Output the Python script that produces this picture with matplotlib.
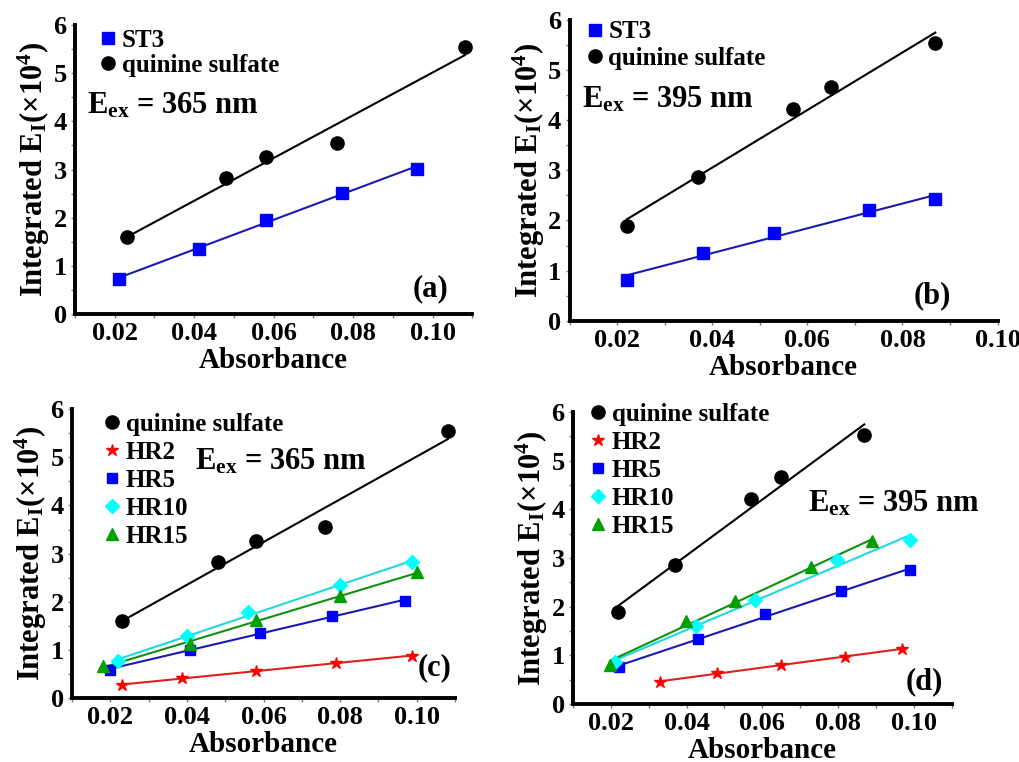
import numpy as np
import matplotlib.pyplot as plt
from matplotlib.ticker import MultipleLocator

plt.rcParams['font.family'] = 'Liberation Serif'
plt.rcParams['font.weight'] = 'bold'
plt.rcParams['axes.labelweight'] = 'bold'
plt.rcParams['mathtext.fontset'] = 'custom'
plt.rcParams['mathtext.rm'] = 'Liberation Serif:bold'
plt.rcParams['mathtext.it'] = 'Liberation Serif:bold'
plt.rcParams['mathtext.bf'] = 'Liberation Serif:bold'

# ---- data ----
# excitation at 365 nm
qs365_x = [0.0231, 0.0481, 0.0580, 0.0760, 0.1081]
qs365_y = [1.60, 2.83, 3.26, 3.56, 5.54]
st3_365_x = [0.0211, 0.0411, 0.0580, 0.0772, 0.0960]
st3_365_y = [0.73, 1.35, 1.96, 2.52, 3.02]

hr2_365_x = [0.0231, 0.0387, 0.0580, 0.0789, 0.0989]
hr2_365_y = [0.26, 0.42, 0.57, 0.73, 0.87]
hr5_365_x = [0.0200, 0.0409, 0.0591, 0.0778, 0.0969]
hr5_365_y = [0.59, 1.00, 1.36, 1.70, 2.02]
hr10_365_x = [0.0220, 0.0400, 0.0559, 0.0800, 0.0989]
hr10_365_y = [0.76, 1.28, 1.79, 2.35, 2.82]
hr15_365_x = [0.0181, 0.0407, 0.0580, 0.0800, 0.1000]
hr15_365_y = [0.67, 1.12, 1.61, 2.11, 2.61]

# excitation at 395 nm
qs395_x = [0.0220, 0.0370, 0.0570, 0.0649, 0.0869]
qs395_y = [1.89, 2.86, 4.22, 4.66, 5.53]
st3_395_x = [0.0220, 0.0380, 0.0530, 0.0730, 0.0869]
st3_395_y = [0.82, 1.35, 1.75, 2.20, 2.43]

hr2_395_x = [0.0330, 0.0480, 0.0649, 0.0819, 0.0969]
hr2_395_y = [0.45, 0.64, 0.81, 0.97, 1.13]
hr5_395_x = [0.0222, 0.0430, 0.0608, 0.0807, 0.0989]
hr5_395_y = [0.76, 1.34, 1.84, 2.32, 2.75]
hr10_395_x = [0.0211, 0.0424, 0.0580, 0.0798, 0.0991]
hr10_395_y = [0.86, 1.61, 2.13, 2.95, 3.38]
hr15_395_x = [0.0198, 0.0398, 0.0529, 0.0729, 0.0890]
hr15_395_y = [0.81, 1.70, 2.11, 2.82, 3.34]

ylabel = 'Integrated E$_{\\mathrm{I}}$(×10$^{4}$)'


def series(ax, x, y, marker, mcolor, lcolor, label, ms):
    x = np.array(x)
    y = np.array(y)
    k, b = np.polyfit(x, y, 1)
    xx = np.array([x.min(), x.max()])
    ax.plot(xx, k * xx + b, color=lcolor, lw=1.5, zorder=2)
    ax.plot(x, y, ls='none', marker=marker, color=mcolor, ms=ms, label=label,
            zorder=3)


def style(ax, xmax):
    ax.set_xlim(0.01, xmax)
    ax.set_ylim(0, 6)
    for s in ['top', 'right']:
        ax.spines[s].set_visible(False)
    for s in ['left', 'bottom']:
        ax.spines[s].set_linewidth(2.8)
    ax.xaxis.set_minor_locator(MultipleLocator(0.01))
    ax.yaxis.set_major_locator(MultipleLocator(1))
    ax.yaxis.set_minor_locator(MultipleLocator(0.5))
    ax.set_xticks(np.arange(0.02, 0.101, 0.02))
    ax.set_xticklabels(['0.02', '0.04', '0.06', '0.08', '0.10'])
    ax.tick_params(which='both', direction='out', length=3, width=1,
                   color='#777777', labelsize=19, pad=3)
    ax.set_xlabel('Absorbance', fontsize=21, labelpad=1)
    ax.set_ylabel(ylabel, fontsize=22, labelpad=1)


fig = plt.figure(figsize=(10.19, 7.62), dpi=100)
ax_a = fig.add_axes([0.0736, 0.588, 0.390, 0.379])
ax_b = fig.add_axes([0.559, 0.579, 0.420, 0.395])
ax_c = fig.add_axes([0.0707, 0.084, 0.3758, 0.379])
ax_d = fig.add_axes([0.5623, 0.0761, 0.3717, 0.3832])

leg_kw = dict(frameon=False, fontsize=18, handletextpad=0.05,
              borderaxespad=0.1, handlelength=1.0)

# (a)
series(ax_a, st3_365_x, st3_365_y, 's', '#0000ff', '#1a1ab0', 'ST3', 8)
series(ax_a, qs365_x, qs365_y, 'o', 'black', 'black', 'quinine sulfate', 9.5)
style(ax_a, 0.11)
ax_a.legend(loc='upper left', bbox_to_anchor=(0.02, 1.03), labelspacing=0.08,
            **leg_kw)
ax_a.text(0.03, 0.695, 'E$_{\\mathrm{ex}}$ = 365 nm', transform=ax_a.transAxes,
          fontsize=22)
ax_a.text(0.94, 0.06, '(a)', transform=ax_a.transAxes, fontsize=22, ha='right')

# (b)
series(ax_b, st3_395_x, st3_395_y, 's', '#0000ff', '#1a1ab0', 'ST3', 8)
series(ax_b, qs395_x, qs395_y, 'o', 'black', 'black', 'quinine sulfate', 9.5)
style(ax_b, 0.10)
ax_b.legend(loc='upper left', bbox_to_anchor=(0.0, 1.04), labelspacing=0.15,
            **leg_kw)
ax_b.text(0.03, 0.71, 'E$_{\\mathrm{ex}}$ = 395 nm', transform=ax_b.transAxes,
          fontsize=22)
ax_b.text(0.89, 0.06, '(b)', transform=ax_b.transAxes, fontsize=22, ha='right')

# (c)
series(ax_c, qs365_x, qs365_y, 'o', 'black', 'black', 'quinine sulfate', 9.5)
series(ax_c, hr2_365_x, hr2_365_y, '*', '#ff0000', '#e02020', 'HR2', 9)
series(ax_c, hr5_365_x, hr5_365_y, 's', '#0000ff', '#1a1ab0', 'HR5', 7)
series(ax_c, hr10_365_x, hr10_365_y, 'D', '#00ffff', '#20d8e0', 'HR10', 7)
series(ax_c, hr15_365_x, hr15_365_y, '^', '#00a000', '#109010', 'HR15', 8)
style(ax_c, 0.11)
ax_c.legend(loc='upper left', bbox_to_anchor=(0.04, 1.03), labelspacing=0.2,
            **leg_kw)
ax_c.text(0.32, 0.79, 'E$_{\\mathrm{ex}}$ = 365 nm', transform=ax_c.transAxes,
          fontsize=22)
ax_c.text(0.99, 0.08, '(c)', transform=ax_c.transAxes, fontsize=22, ha='right')

# (d)
series(ax_d, qs395_x, qs395_y, 'o', 'black', 'black', 'quinine sulfate', 9.5)
series(ax_d, hr2_395_x, hr2_395_y, '*', '#ff0000', '#e02020', 'HR2', 9)
series(ax_d, hr5_395_x, hr5_395_y, 's', '#0000ff', '#1a1ab0', 'HR5', 7)
series(ax_d, hr10_395_x, hr10_395_y, 'D', '#00ffff', '#20d8e0', 'HR10', 7)
series(ax_d, hr15_395_x, hr15_395_y, '^', '#00a000', '#109010', 'HR15', 8)
style(ax_d, 0.11)
ax_d.legend(loc='upper left', bbox_to_anchor=(0.0, 1.075), labelspacing=0.2,
            **leg_kw)
ax_d.text(0.62, 0.66, 'E$_{\\mathrm{ex}}$ = 395 nm', transform=ax_d.transAxes,
          fontsize=22)
ax_d.text(0.976, 0.05, '(d)', transform=ax_d.transAxes, fontsize=22, ha='right')

fig.savefig('out.png', dpi=100)
